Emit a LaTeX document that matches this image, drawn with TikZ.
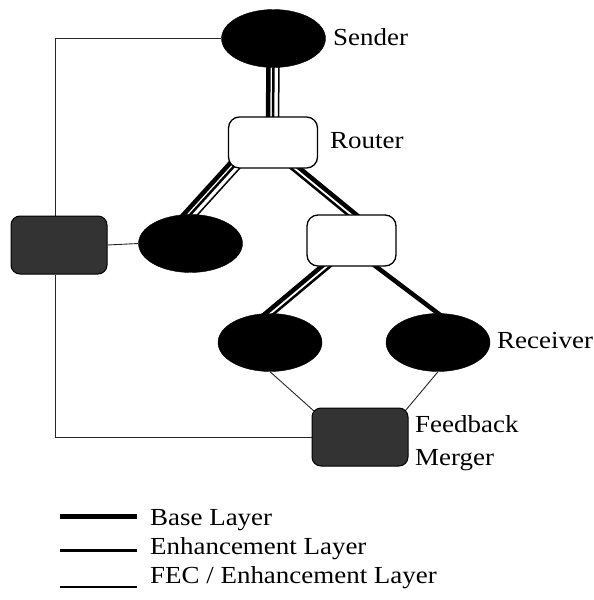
\documentclass[tikz,border=0pt]{standalone}
\usepackage{fontspec}
\setmainfont{Liberation Serif}[FakeStretch=1.1]
\usetikzlibrary{calc,backgrounds,shapes.geometric}
\newcommand\seg[4]{%
  \coordinate (segp) at ($(#3)!-8pt!(#4)$);
  \coordinate (segq) at ($(#4)!-8pt!(#3)$);
  \draw[#1] ($(segp)!#2!90:(segq)$) -- ($(segq)!#2!-90:(segp)$);
}
\begin{document}
\begin{tikzpicture}[x=1pt,y=-1pt,
  host/.style={ellipse, fill=black, draw=black, minimum width=104pt, minimum height=58pt, inner sep=0pt},
  rtr/.style={rectangle, rounded corners=11pt, fill=white, draw=black, line width=1.3pt, minimum width=89pt, minimum height=51pt, inner sep=0pt},
  fbk/.style={rectangle, rounded corners=9pt, fill=black!80, draw=black, line width=1pt, minimum width=96pt, minimum height=58pt, inner sep=0pt},
  lbl/.style={inner sep=0pt, anchor=base west, font=\fontsize{24.5}{28}\selectfont},
  baseln/.style={line width=4.5pt, black},
  enhln/.style={line width=2.5pt, black},
  fecln/.style={line width=1.5pt, black},
  fb/.style={line width=0.9pt, black!85},
]
\useasboundingbox (0,0) rectangle (594,600);

% nodes
\node[host] (s) at (273.5,38.5) {};
\node[rtr] (r1) at (273,142.5) {};
\node[host] (l1) at (190.5,243.5) {};
\node[fbk] (g) at (59,245) {};
\node[rtr] (r2) at (351.5,240.5) {};
\node[host] (rl) at (270,342.5) {};
\node[host] (rr) at (438,342.5) {};
\node[fbk] (m) at (360,437) {};

% labels
\node[lbl] (ts) at (333,45) {Sender};
\node[lbl] (tr) at (330,148) {Router};
\node[lbl] (trc) at (497,348) {Receiver};
\node[lbl] (tf) at (415,432) {Feedback};
\node[lbl] (tm) at (415,465) {Merger};

% connectors (behind nodes)
\begin{scope}[on background layer]
  % sender -> router : base + enhancement + FEC
  \seg{baseln}{-5pt}{s.south}{r1.north}
  \seg{enhln}{0pt}{s.south}{r1.north}
  \seg{fecln}{5.5pt}{s.south}{r1.north}
  % router -> left host : base + enhancement + FEC
  \coordinate (a1) at ($(r1.south)+(-42,1)$);
  \seg{baseln}{-5pt}{a1}{l1.north}
  \seg{enhln}{0pt}{a1}{l1.north}
  \seg{fecln}{5.5pt}{a1}{l1.north}
  % router -> router2 : base + enhancement
  \coordinate (a2) at ($(r1.south)+(24,1)$);
  \seg{baseln}{2.8pt}{a2}{r2.north}
  \seg{enhln}{-2.8pt}{a2}{r2.north}
  % router2 -> left receiver : base + enhancement
  \coordinate (a3) at ($(r2.south)+(-27,1)$);
  \seg{baseln}{-2.8pt}{a3}{rl.north}
  \seg{enhln}{2.8pt}{a3}{rl.north}
  % router2 -> right receiver : base
  \coordinate (a4) at ($(r2.south)+(26,1)$);
  \seg{baseln}{0pt}{a4}{rr.north}
  % feedback lines
  \draw[fb] (s.west) -| ($(g.north)+(-4,0)$);
  \draw[fb] ($(g.south)+(-4,0)$) |- (m.west);
  \draw[fb] (g.east) -- (l1.west);
  \draw[fb] (rl.south) -- ($(m.north west)+(3,4)$);
  \draw[fb] (rr.south) -- ($(m.north east)+(-3,3)$);
\end{scope}

% legend
\node[lbl] (lb) at (150,525) {Base Layer};
\node[lbl] (le) at (150,554) {Enhancement Layer};
\node[lbl] (lf) at (150,583) {FEC / Enhancement Layer};
\draw[line width=5pt] (60,516.5) -- (137,516.5);
\draw[line width=3.5pt] (60,550.5) -- (137,550.5);
\draw[line width=2pt] (60,587) -- (137,587);
\end{tikzpicture}
\end{document}
